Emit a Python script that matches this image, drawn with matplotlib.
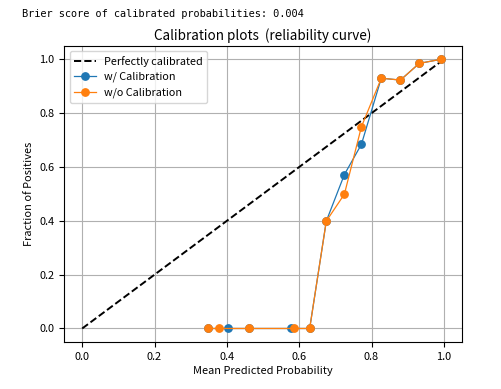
import matplotlib
matplotlib.use("Agg")
import matplotlib.pyplot as plt

plt.rcParams['font.family'] = ['Noto Sans CJK JP', 'DejaVu Sans']

brier_text = "Brier score of calibrated probabilities: 0.004"

cal_x = [0.347, 0.404, 0.461, 0.578, 0.629, 0.675, 0.725, 0.772, 0.827, 0.880, 0.932, 0.991]
cal_y = [0.0, 0.0, 0.0, 0.0, 0.0, 0.399, 0.572, 0.684, 0.930, 0.923, 0.985, 1.0]

uncal_x = [0.347, 0.379, 0.461, 0.586, 0.629, 0.675, 0.725, 0.772, 0.827, 0.880, 0.932, 0.991]
uncal_y = [0.0, 0.0, 0.0, 0.0, 0.0, 0.399, 0.499, 0.749, 0.930, 0.923, 0.985, 1.0]

fig = plt.figure(figsize=(5.01, 3.89), dpi=100)
ax = fig.add_axes([0.128, 0.121, 0.794, 0.761])

fig.text(0.044, 0.963, brier_text, family='DejaVu Sans Mono', fontsize=7.4, va='center')

ax.plot([0, 1], [0, 1], "k--", lw=1.4, label="Perfectly calibrated")
ax.plot(cal_x, cal_y, marker='o', lw=0.9, ms=5.3, label="w/ Calibration")
ax.plot(uncal_x, uncal_y, marker='o', lw=0.9, ms=5.3, label="w/o Calibration")

ax.set_xlim(-0.05, 1.05)
ax.set_ylim(-0.05, 1.05)
ax.set_xticks([0.0, 0.2, 0.4, 0.6, 0.8, 1.0])
ax.set_yticks([0.0, 0.2, 0.4, 0.6, 0.8, 1.0])
ax.tick_params(labelsize=7.9)
ax.grid(True, color='#b0b0b0', lw=0.8)
ax.set_xlabel("Mean Predicted Probability", fontsize=7.9, labelpad=3)
ax.set_ylabel("Fraction of Positives", fontsize=7.9)
ax.set_title("Calibration plots  (reliability curve)", fontsize=9.7, pad=4)
ax.legend(loc="upper left", fontsize=7.8)

plt.savefig("out.png", dpi=100)
